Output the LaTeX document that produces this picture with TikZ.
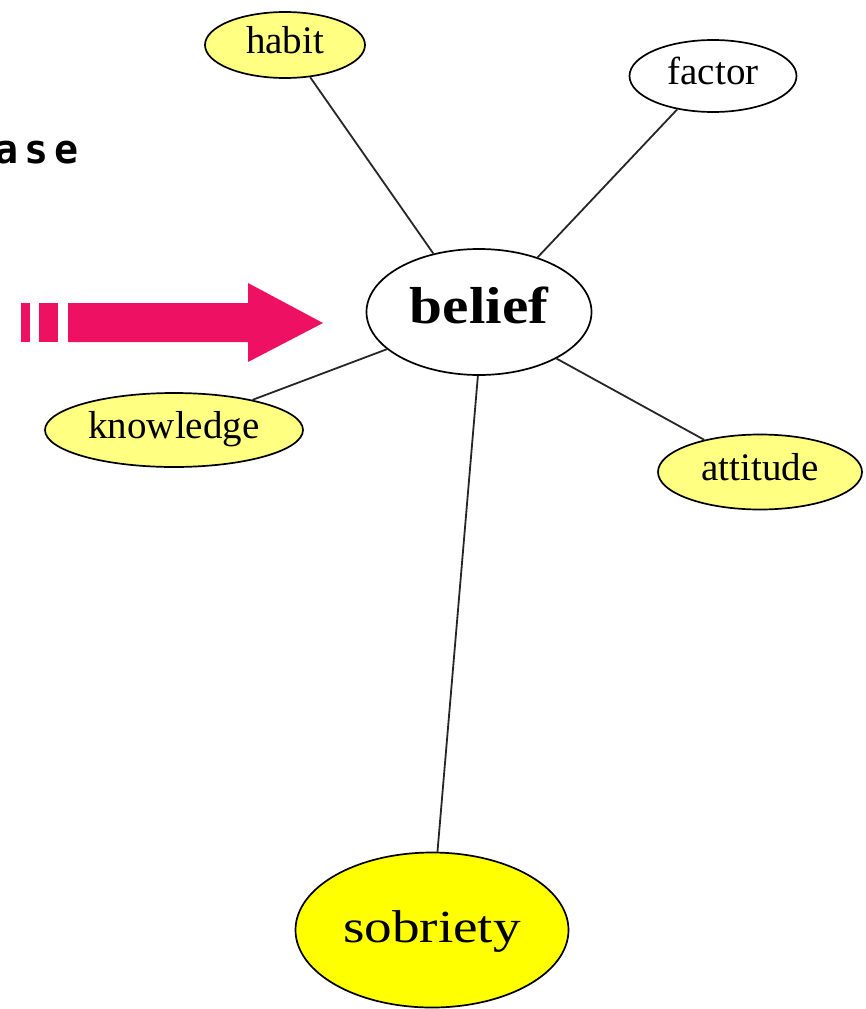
\documentclass[tikz,border=0pt]{standalone}
\usepackage{fontspec}
\setmainfont{Liberation Serif}
\newfontfamily\asefont{DejaVu Sans Mono}[LetterSpace=15]
\usetikzlibrary{shapes.geometric}
\definecolor{paleyel}{RGB}{255,255,130}
\definecolor{brightyel}{RGB}{255,255,0}
\definecolor{hotpink}{RGB}{238,17,99}
\tikzset{
  oval/.style={ellipse, draw=black, line width=1.7pt, inner sep=0pt, text depth=0pt},
  small/.style={oval, font=\fontsize{39}{39}\selectfont, text height=17pt},
  link/.style={draw=black!85, line width=1.8pt}
}
\begin{document}
\begin{tikzpicture}[x=1pt,y=-1pt]
\useasboundingbox (0,0) rectangle (865,1009);
% partial text
\node[anchor=base west, inner sep=0pt] (ase) at (-6,163) {\fontsize{40}{40}\asefont\bfseries ase};
% pink arrow
\fill[hotpink] (21,303) rectangle (30,342);
\fill[hotpink] (39,303) rectangle (58,342);
\fill[hotpink] (68,303) -- (248,303) -- (248,283) -- (323,323) -- (248,362) -- (248,342) -- (68,342) -- cycle;
% nodes
\node[oval, fill=white, minimum width=225pt, minimum height=126pt, text height=22pt,
      font=\fontsize{52}{52}\selectfont\bfseries] (belief) at (479,312) {\scalebox{1.14}[1]{belief}};
\node[small, fill=paleyel, minimum width=160pt, minimum height=66pt] (habit) at (285,45) {habit};
\node[small, fill=white, minimum width=167pt, minimum height=72pt] (factor) at (713,76) {factor};
\node[small, fill=paleyel, minimum width=258pt, minimum height=74pt] (knowledge) at (174,430) {knowledge};
\node[small, fill=paleyel, minimum width=204pt, minimum height=75pt] (attitude) at (760,472) {attitude};
\node[oval, fill=brightyel, minimum width=273pt, minimum height=155pt, text height=24pt,
      font=\fontsize{46}{46}\selectfont] (sobriety) at (432,930) {\scalebox{1.2}[1]{sobriety}};
% connectors
\draw[link] (habit.-52) -- (belief.128);
\draw[link] (factor.-137) -- (belief.43.5);
\draw[link] (knowledge.21) -- (belief.202);
\draw[link] (attitude.150) -- (belief.-31);
\draw[link] (sobriety.86) -- (belief.-91);
\end{tikzpicture}
\end{document}
